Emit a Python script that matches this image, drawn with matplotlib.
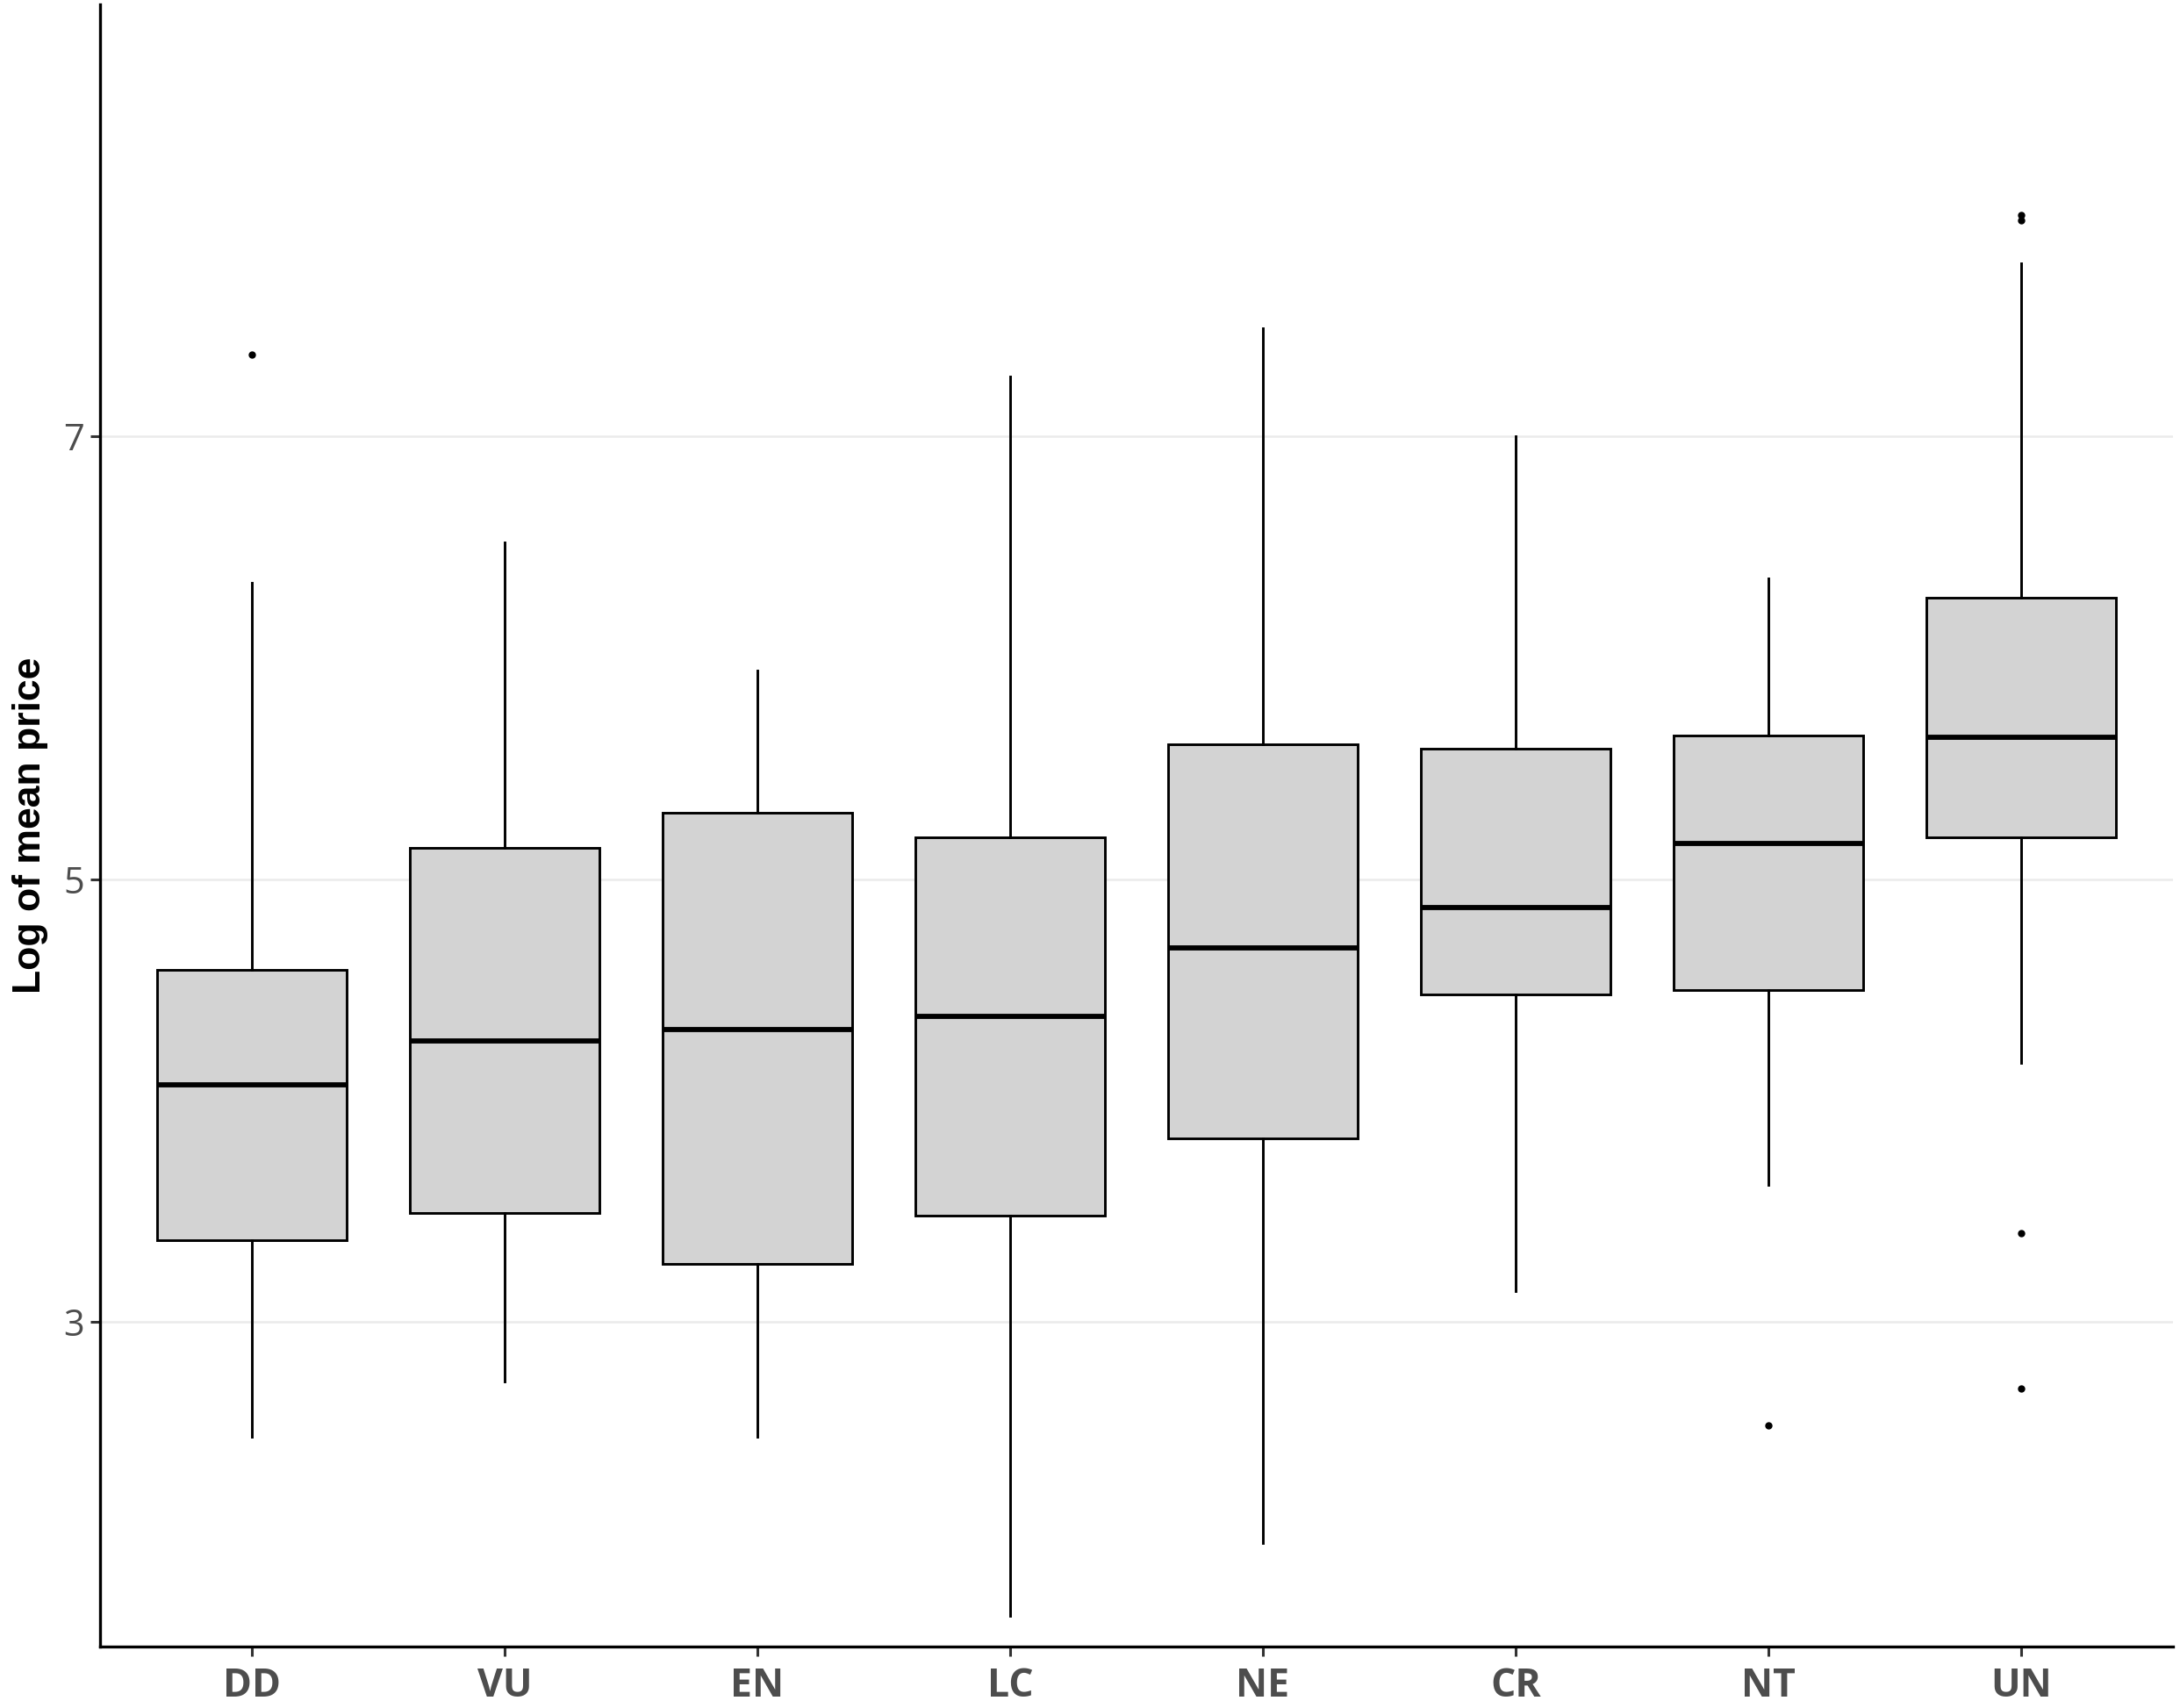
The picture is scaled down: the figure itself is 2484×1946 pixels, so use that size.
import matplotlib
matplotlib.use("Agg")
import matplotlib.pyplot as plt

categories = ["DD", "VU", "EN", "LC", "NE", "CR", "NT", "UN"]
whisker_low = [2.48, 2.73, 2.48, 1.67, 2.00, 3.14, 3.62, 4.17]
q1 = [3.37, 3.49, 3.26, 3.48, 3.83, 4.48, 4.50, 5.19]
median = [4.07, 4.27, 4.32, 4.38, 4.69, 4.87, 5.16, 5.64]
q3 = [4.59, 5.14, 5.30, 5.19, 5.61, 5.59, 5.65, 6.27]
whisker_high = [6.34, 6.52, 5.94, 7.27, 7.49, 7.00, 6.36, 7.78]
outliers = [[7.37], [], [], [], [], [], [2.53], [8.00, 7.976, 3.40, 2.70]]
y_ticks = [3, 5, 7]

fig = plt.figure(figsize=(24.84, 19.46), dpi=100)
ax = fig.add_axes([0.0459, 0.0362, 0.9509, 0.9610])

stats = []
for i, c in enumerate(categories):
    stats.append(dict(label=c, whislo=whisker_low[i], q1=q1[i], med=median[i],
                      q3=q3[i], whishi=whisker_high[i], fliers=outliers[i]))

ax.bxp(stats, positions=range(len(categories)), widths=0.75, patch_artist=True,
       showcaps=False,
       boxprops=dict(facecolor="#D3D3D3", edgecolor="black", linewidth=2.1),
       medianprops=dict(color="black", linewidth=4.2, solid_capstyle="butt"),
       whiskerprops=dict(color="black", linewidth=2.1),
       flierprops=dict(marker="o", markerfacecolor="black", markeredgecolor="black",
                       markersize=5, linestyle="none"))

ax.set_xlim(-0.6, 7.6)
ax.set_ylim(1.534, 8.95)
ax.set_yticks(y_ticks)
ax.set_yticklabels([str(t) for t in y_ticks], fontsize=30, color="#4D4D4D",
                   family="Open Sans")
ax.set_xticks(range(len(categories)))
ax.set_xticklabels(categories, fontsize=32, fontweight="bold", color="#4D4D4D",
                   family="Open Sans")
ax.yaxis.grid(True, color="#EBEBEB", linewidth=1.8)
ax.xaxis.grid(False)
ax.set_axisbelow(True)
for s in ["top", "right"]:
    ax.spines[s].set_visible(False)
for s in ["left", "bottom"]:
    ax.spines[s].set_linewidth(2.4)
    ax.spines[s].set_color("black")
ax.tick_params(axis="y", length=8, width=2.2, color="#333333", pad=5)
ax.tick_params(axis="x", length=8, width=2.2, color="#333333", pad=9)
ax.set_ylabel("Log of mean price", fontsize=32, fontweight="bold",
              family="Liberation Sans", labelpad=12)

fig.savefig("out.png", dpi=100, facecolor="white")
